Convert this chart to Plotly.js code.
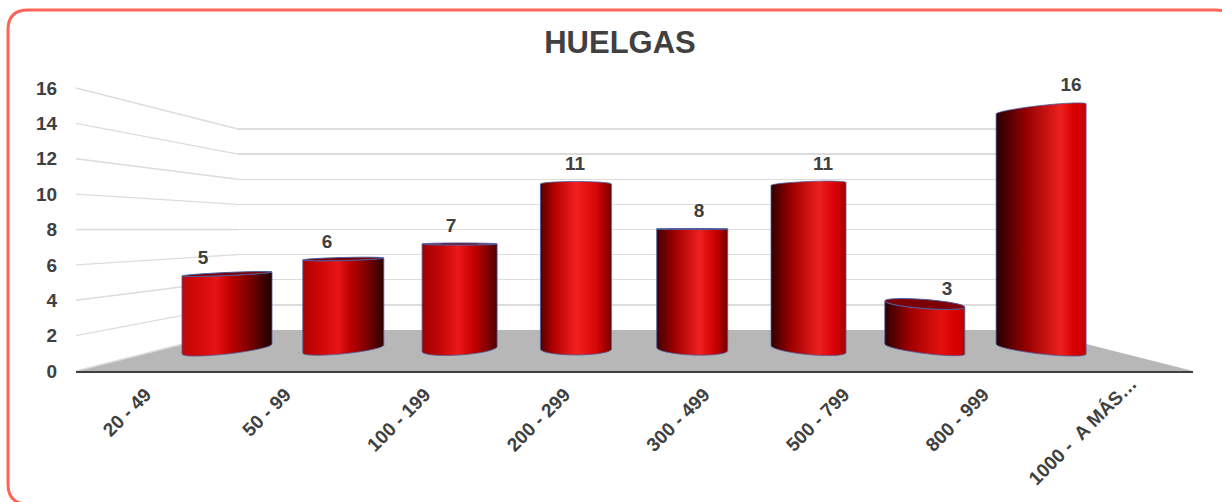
<!DOCTYPE html>
<html>
<head>
<meta charset="utf-8">
<script src="https://cdn.plot.ly/plotly-3.0.1.min.js"></script>
<style>html,body{margin:0;padding:0;background:#fff;overflow:hidden}#chart{width:1222px;height:502px}</style>
</head>
<body>
<div id="chart"></div>
<script>
// ---- chart data ----
const categories = ["20 - 49","50 - 99","100 - 199","200 - 299","300 - 499","500 - 799","800 - 999","1000 -  A MÁS…"];
const values = [5,6,7,11,8,11,3,16];
const axisTicks = [0,2,4,6,8,10,12,14,16];
const chartTitle = "HUELGAS";

// ---- appearance of the cylinders (perspective look, not data) ----
const barWidths = [90,81,75,71,71,75,80,90];
const topTilt   = [-2,-1,0,0,0,-1.5,3,-5];
const topBulge  = [1.5,1.5,1,2.5,0.5,2.5,4.5,3.5];
const showsCap  = [true,true,true,false,true,false,true,false];
const baseTilt  = [-5,-4,-2.5,0,1.5,3.5,5,5];
const baseBulge = [5,4.8,6,6,6,5.6,4.5,5];
const gradients = [
  [[0,'#c00808'],[.2,'#d40a0a'],[.38,'#e61414'],[.55,'#bc0000'],[.75,'#7c0000'],[.92,'#380000'],[1,'#200000']],
  [[0,'#b00000'],[.25,'#d40808'],[.43,'#e81515'],[.6,'#b80000'],[.8,'#780000'],[1,'#2c0000']],
  [[0,'#a00000'],[.25,'#c40606'],[.48,'#ee1818'],[.68,'#c80000'],[.88,'#800000'],[1,'#4a0000']],
  [[0,'#500000'],[.18,'#b00000'],[.5,'#f42020'],[.78,'#d80808'],[.92,'#a00000'],[1,'#700000']],
  [[0,'#400000'],[.28,'#a80000'],[.6,'#ee2020'],[.82,'#d00000'],[1,'#700000']],
  [[0,'#300000'],[.28,'#a00000'],[.64,'#ee2020'],[.85,'#d80000'],[1,'#a80000']],
  [[0,'#2c0000'],[.32,'#a00000'],[.7,'#e41010'],[.88,'#d80000'],[1,'#c00000']],
  [[0,'#280000'],[.32,'#900000'],[.72,'#ee2020'],[.86,'#d80000'],[1,'#c80000']]
];

// ---- geometry of the drawing planes, in page pixels ----
const L = 76, R = 1193, T = 66, B = 371, W = R - L, H = B - T;
const frontT = 88, backL = 238, backR = 1031, backB = 330, backT = 129;
const px = x => (x - L) / W, py = y => (B - y) / H;
const rangeX = (c0, step) => [(L - c0) / step, (R - c0) / step];
const rangeY = (base, unit) => [(base - B) / unit, (base - T) / unit];
const backUnit = (backB - backT) / 16, frontUnit = (B - frontT) / 16;
const backY = t => backB - backUnit * t;
const frontY = t => B - frontUnit * t;

const dark = '#404040', grid = '#dcdcdc';
const fontFam = '"Liberation Sans", Arial, sans-serif';
const tickFont = {family: fontFam, size: 19, color: dark, weight: 700};

const shapes = [
  {type:'path', xref:'paper', yref:'paper', layer:'below', line:{width:0}, fillcolor:'#b7b7b7',
   path:`M${px(L)},${py(B)} L${px(backL)},${py(backB)} L${px(backR)},${py(backB)} L${px(R)},${py(B)} Z`},
  {type:'path', xref:'paper', yref:'paper', layer:'below', line:{color:'#ff6459', width:3},
   path:`M${px(28)},${py(10)} L${px(1216)},${py(10)} Q${px(1236)},${py(10)} ${px(1236)},${py(30)} L${px(1236)},${py(484)} Q${px(1236)},${py(504)} ${px(1216)},${py(504)} L${px(28)},${py(504)} Q${px(8)},${py(504)} ${px(8)},${py(484)} L${px(8)},${py(30)} Q${px(8)},${py(10)} ${px(28)},${py(10)} Z`}
].concat(axisTicks.map(t => ({
  type:'line', xref:'paper', yref:'paper', layer:'below', line:{color:grid, width:1.3},
  x0:px(L), y0:py(frontY(t)), x1:px(backL), y1:py(backY(t))
})));

const traces = [
  {type:'scatter', mode:'none', x:categories, y:values, xaxis:'x', yaxis:'y', hoverinfo:'skip', showlegend:false},
  {type:'scatter', mode:'none', x:categories, y:values, xaxis:'x2', yaxis:'y2', hoverinfo:'skip', showlegend:false},
  {type:'bar', x:categories, y:values, xaxis:'x3', yaxis:'y3', showlegend:false, cliponaxis:false,
   width:barWidths.map(w => w / 116.3),
   marker:{color:'#d00000', line:{color:'#4d5c9e', width:1}}},
  {type:'scatter', mode:'text', x:categories, y:values, xaxis:'x4', yaxis:'y4', showlegend:false, cliponaxis:false,
   text:values.map(String), textposition:'middle center', textfont:tickFont, hoverinfo:'skip'}
];

const hidden = {visible:false, showgrid:false, zeroline:false, fixedrange:true};
const catAxis = {type:'category', categoryorder:'array', categoryarray:categories};

const layout = {
  width:1222, height:502, paper_bgcolor:'#fff', plot_bgcolor:'rgba(0,0,0,0)',
  margin:{l:L, r:1222-R, t:T, b:502-B, pad:0},
  showlegend:false, bargap:0,
  title:{text:chartTitle, x:620/1222, xanchor:'center', y:1-42.5/502, yanchor:'middle',
         font:{family:fontFam, size:31, color:dark, weight:700}},
  shapes,
  // back wall
  xaxis:{...hidden, ...catAxis, domain:[px(backL), px(backR)], anchor:'y'},
  yaxis:{range:[0,16.5], domain:[py(backB), py(backY(16.5))], anchor:'x', tickvals:axisTicks, showticklabels:false,
         ticks:'', showgrid:true, gridcolor:grid, gridwidth:1.3, zeroline:false, showline:false, fixedrange:true},
  // front edge: the labelled axes
  xaxis2:{...catAxis, range:[-0.5,7.5], domain:[0,1], anchor:'y2', showgrid:false, zeroline:false,
          showline:true, linecolor:dark, linewidth:2, ticks:'outside', ticklen:3, tickcolor:'rgba(0,0,0,0)',
          tickangle:-45, tickfont:tickFont, fixedrange:true},
  yaxis2:{range:[0,(B - T) / frontUnit], domain:[0,1], anchor:'x2', tickvals:axisTicks, showgrid:false, zeroline:false,
          showline:false, ticks:'outside', ticklen:14, tickcolor:'rgba(0,0,0,0)', tickfont:tickFont, fixedrange:true},
  // plane of the cylinders
  xaxis3:{...hidden, ...catAxis, overlaying:'x2', anchor:'y3', range:rangeX(227,116.3)},
  yaxis3:{...hidden, overlaying:'y2', anchor:'x3', range:rangeY(349,15)},
  // plane of the value labels
  xaxis4:{...hidden, ...catAxis, overlaying:'x2', anchor:'y4', range:rangeX(203,124)},
  yaxis4:{...hidden, overlaying:'y2', anchor:'x4', range:rangeY(337.5,15.7)}
};

const NS = 'http://www.w3.org/2000/svg';
function ellipseArc(cx, cy, a, k, b, t0, t1, n) {
  const pts = [];
  for (let i = 0; i <= n; i++) {
    const t = t0 + (t1 - t0) * i / n;
    pts.push((cx + a * Math.cos(t)).toFixed(2) + ',' + (cy + k * Math.cos(t) + b * Math.sin(t)).toFixed(2));
  }
  return pts;
}
function styleCylinders(gd) {
  const svg = gd.querySelector('.main-svg');
  let defs = svg.querySelector('defs#cyl-defs');
  if (!defs) {
    defs = document.createElementNS(NS, 'defs');
    defs.id = 'cyl-defs';
    gradients.forEach((stops, i) => {
      const g = document.createElementNS(NS, 'linearGradient');
      g.id = 'cyl' + i;
      g.setAttribute('x1', '0'); g.setAttribute('x2', '1'); g.setAttribute('y1', '0'); g.setAttribute('y2', '0');
      stops.forEach(s => {
        const st = document.createElementNS(NS, 'stop');
        st.setAttribute('offset', s[0]); st.setAttribute('stop-color', s[1]);
        g.appendChild(st);
      });
      defs.appendChild(g);
    });
    svg.insertBefore(defs, svg.firstChild);
  }
  gd.querySelectorAll('.barlayer g.point').forEach((pt, i) => {
    const p = pt.querySelector('path');
    if (!p || p.dataset.done) return;
    const n = p.getAttribute('d').match(/-?\d+(\.\d+)?/g).map(Number);
    const x0 = n[0], y0 = n[1], y1 = n[2], x1 = n[3];
    const cx = (x0 + x1) / 2, a = Math.abs(x1 - x0) / 2, yTop = Math.min(y0, y1), yBase = Math.max(y0, y1);
    const topSign = showsCap[i] ? 1 : -1;
    const top = ellipseArc(cx, yTop, a, topTilt[i], topSign * topBulge[i], Math.PI, 0, 28);
    const bot = ellipseArc(cx, yBase, a, baseTilt[i], baseBulge[i], 0, Math.PI, 28);
    p.setAttribute('d', 'M' + top.join('L') + 'L' + bot.join('L') + 'Z');
    p.style.fill = 'url(#cyl' + i + ')';
    p.style.strokeOpacity = 0.8;
    p.dataset.done = '1';
    if (showsCap[i]) {
      const cap = document.createElementNS(NS, 'path');
      const c = ellipseArc(cx, yTop, a, topTilt[i], topBulge[i], 0, 2 * Math.PI, 56);
      cap.setAttribute('d', 'M' + c.join('L') + 'Z');
      cap.setAttribute('fill', '#7c0006');
      cap.setAttribute('stroke', '#4d5c9e');
      cap.setAttribute('stroke-width', '1');
      pt.appendChild(cap);
    }
  });
  // the long last label sits a little higher and further right in the reference
  const labels = gd.querySelectorAll('.x2tick');
  if (labels.length) labels[labels.length - 1].setAttribute('transform', 'translate(8,-11)');
}
const gd = document.getElementById('chart');
Plotly.newPlot(gd, traces, layout, {displayModeBar:false, staticPlot:true}).then(() => styleCylinders(gd));
</script>
</body>
</html>
